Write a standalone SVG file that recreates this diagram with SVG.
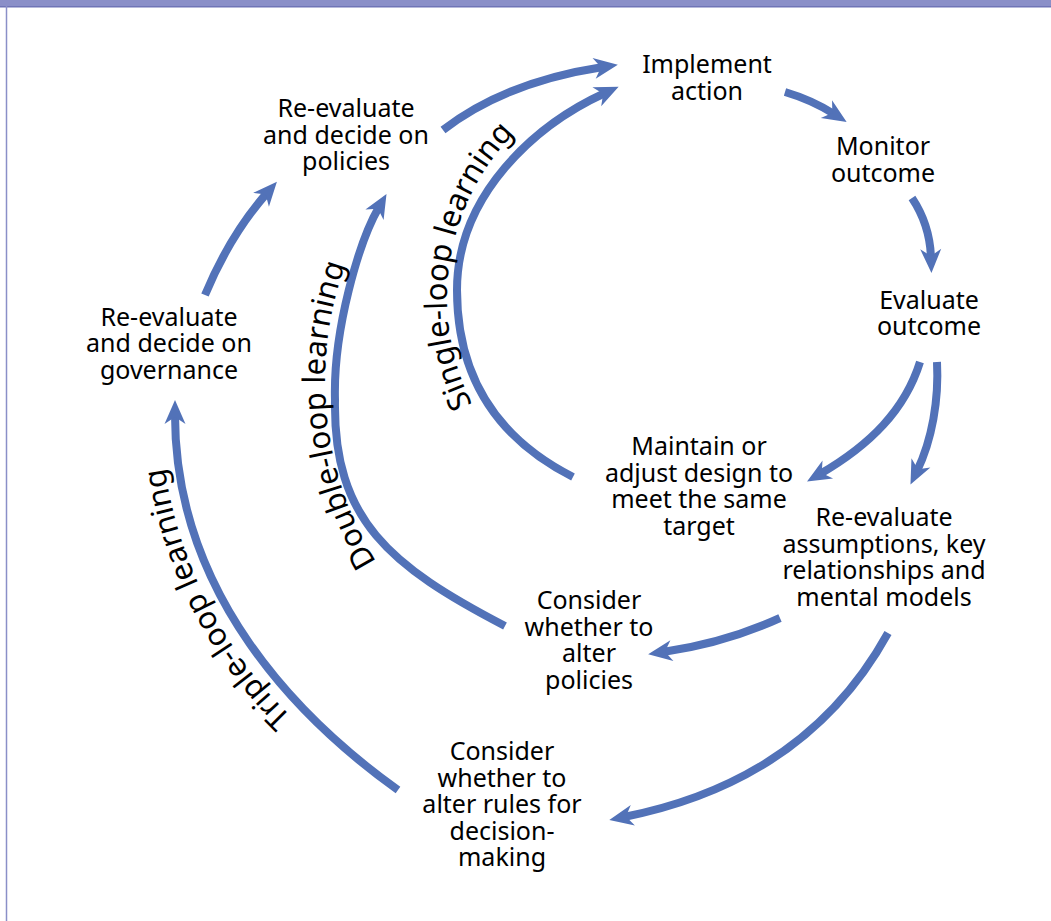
<svg xmlns="http://www.w3.org/2000/svg" width="1051" height="921" viewBox="0 0 1051 921">
<style>
.t{font-family:"Noto Sans","Open Sans",sans-serif;font-size:25px;fill:#000;text-anchor:middle}
.lp{font-family:"Noto Sans","Open Sans",sans-serif;font-size:31px;fill:#000;text-anchor:middle}
.a{fill:none;stroke:#5272b8;stroke-width:8;marker-end:url(#ah)}
</style>
<defs>
<marker id="ah" markerUnits="userSpaceOnUse" viewBox="-2 -14 30 28" markerWidth="30" markerHeight="28" refX="9" refY="0" orient="auto">
<path d="M24,0 L0,-10.5 L7,0 L0,10.5 Z" fill="#5272b8"/>
</marker>
<path id="pSingle" d="M519.4,467.6 A235,235 0 0 1 578.2,87.1"/>
<path id="pDouble" d="M476.6,666.2 A344,344 0 0 1 421.6,142"/>
<path id="pTriple" d="M462.7,820.6 A438,438 0 0 1 181.4,268.7"/>
</defs>
<rect x="0" y="0" width="1051" height="921" fill="#fff"/>
<g id="frame">
<rect x="0" y="0" width="1051" height="6" fill="#8a8fc8"/>
<rect x="0" y="6" width="1051" height="1.5" fill="#6f74b6"/>
<line x1="6.5" y1="6" x2="6.5" y2="921" stroke="#8a8fc8" stroke-width="1.5"/>
</g>
<g id="connectors">
<path class="a" d="M443,130 Q505,82 603,67"/>
<path class="a" d="M573,477 C500,440 457,380 457,290 C457,195 535,125 605,93"/>
<path class="a" d="M785,92 Q812,100 834,114"/>
<path class="a" d="M912,198 Q930,225 931,258"/>
<path class="a" d="M920,362 C905,410 870,445 820,474"/>
<path class="a" d="M937,362 C939,400 932,440 917,471"/>
<path class="a" d="M780,618 Q725,643 663,652"/>
<path class="a" d="M888,633 C840,720 760,790 624,817"/>
<path class="a" d="M398,790 C300,720 175,595 175,415"/>
<path class="a" d="M205,295 Q230,235 267,193"/>
<path class="a" d="M505,626 C390,566 333,520 335,400 C333,330 359,241.6 379,207"/>
</g>
<g id="loop-labels">
<text class="lp"><textPath href="#pSingle" startOffset="50%">Single-loop learning</textPath></text>
<text class="lp"><textPath href="#pDouble" startOffset="50%">Double-loop learning</textPath></text>
<text class="lp"><textPath href="#pTriple" startOffset="50%">Triple-loop learning</textPath></text>
</g>
<g id="implement"><text class="t" x="707" y="73">Implement</text><text class="t" x="707" y="100">action</text></g>
<g id="monitor"><text class="t" x="883" y="155">Monitor</text><text class="t" x="883" y="182">outcome</text></g>
<g id="evaluate"><text class="t" x="929" y="309">Evaluate</text><text class="t" x="929" y="335">outcome</text></g>
<g id="maintain"><text class="t" x="699" y="455">Maintain or</text><text class="t" x="699" y="481.5">adjust design to</text><text class="t" x="699" y="508">meet the same</text><text class="t" x="699" y="534.5">target</text></g>
<g id="reassume"><text class="t" x="884" y="526">Re-evaluate</text><text class="t" x="884" y="552.5">assumptions, key</text><text class="t" x="884" y="579">relationships and</text><text class="t" x="884" y="605.5">mental models</text></g>
<g id="policies-consider"><text class="t" x="589" y="609">Consider</text><text class="t" x="589" y="636">whether to</text><text class="t" x="589" y="662">alter</text><text class="t" x="589" y="689">policies</text></g>
<g id="rules-consider"><text class="t" x="502" y="760">Consider</text><text class="t" x="502" y="787">whether to</text><text class="t" x="502" y="813">alter rules for</text><text class="t" x="502" y="840">decision-</text><text class="t" x="502" y="866">making</text></g>
<g id="policies-decide"><text class="t" x="346" y="117">Re-evaluate</text><text class="t" x="346" y="144">and decide on</text><text class="t" x="346" y="170">policies</text></g>
<g id="governance"><text class="t" x="169" y="326">Re-evaluate</text><text class="t" x="169" y="352">and decide on</text><text class="t" x="169" y="379">governance</text></g>
</svg>
